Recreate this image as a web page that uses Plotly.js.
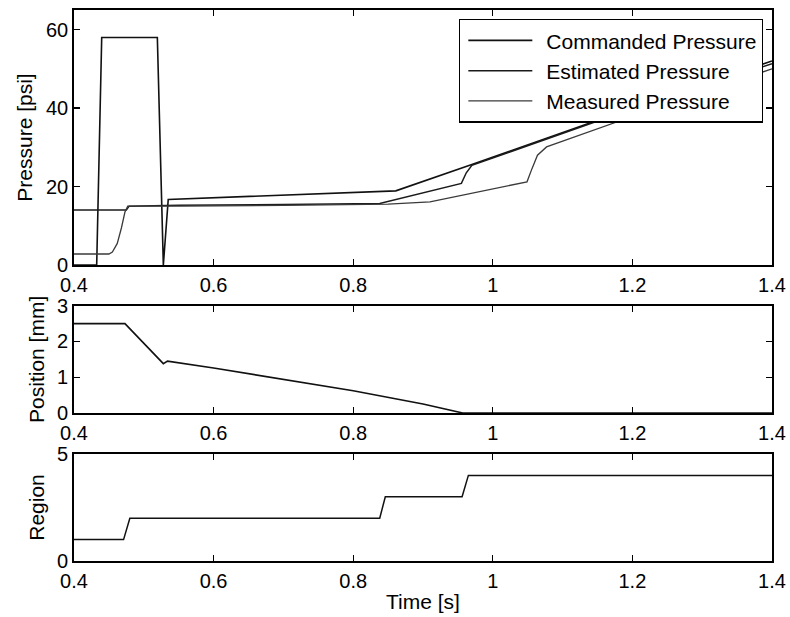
<!DOCTYPE html>
<html>
<head>
<meta charset="utf-8">
<script src="https://cdn.plot.ly/plotly-3.0.1.min.js"></script>
<style>html,body{margin:0;padding:0;background:#fff;}#chart{width:790px;height:617px;}</style>
</head>
<body>
<div id="chart"></div>
<script>
// Pressure panel
const cmdTime  = [0.40, 0.4325, 0.4397, 0.5194, 0.528, 0.535, 0.861, 0.97, 1.20, 1.40];
const cmdPsi   = [0.0,  0.0,    58.0,   58.0,   0.0,   16.7,  18.9,  25.6, 40.0, 52.0];

const estTime  = [0.40, 0.475, 0.479, 0.55, 0.70, 0.838, 0.955, 0.962, 0.97, 1.20, 1.40];
const estPsi   = [14.0, 14.0,  15.0,  15.2, 15.4, 15.7,  20.8,  23.5,  25.4, 39.8, 51.3];

const measTime = [0.40, 0.45, 0.455, 0.462, 0.468, 0.473, 0.477, 0.55, 0.70, 0.85, 0.91, 1.049, 1.056, 1.064, 1.077, 1.24, 1.40];
const measPsi  = [2.8,  2.8,  3.3,   5.5,   9.5,   13.5,  15.0,  15.0, 15.2, 15.5, 16.1, 21.2,  24.5,  28.0,  30.1,  40.4, 50.0];

// Position panel
const posTime  = [0.40, 0.473, 0.528, 0.534, 0.60, 0.70, 0.80, 0.90, 0.957, 1.40];
const posMm    = [2.5,  2.5,   1.38,  1.45,  1.26, 0.95, 0.62, 0.25, 0.0,   0.0];

// Region panel
const regTime  = [0.40, 0.471, 0.480, 0.838, 0.846, 0.956, 0.965, 1.40];
const regVal   = [1,    1,     2,     2,     3,     3,     4,     4];

const xTicks = [0.4, 0.6, 0.8, 1.0, 1.2, 1.4];
const pressureTicks = [0, 20, 40, 60];
const positionTicks = [0, 1, 2, 3];
const regionTicks = [0, 5];

const FONT = 'Liberation Sans, Arial, Helvetica, sans-serif';

const traces = [
  {x: cmdTime, y: cmdPsi, name: 'Commanded Pressure', mode: 'lines', line: {color: '#111', width: 1.6}, xaxis: 'x', yaxis: 'y'},
  {x: estTime, y: estPsi, name: 'Estimated Pressure', mode: 'lines', line: {color: '#1a1a1a', width: 1.5}, xaxis: 'x', yaxis: 'y'},
  {x: measTime, y: measPsi, name: 'Measured Pressure', mode: 'lines', line: {color: '#3a3a3a', width: 1.3}, xaxis: 'x', yaxis: 'y'},
  {x: posTime, y: posMm, mode: 'lines', line: {color: '#111', width: 1.6}, xaxis: 'x2', yaxis: 'y2', showlegend: false},
  {x: regTime, y: regVal, mode: 'lines', line: {color: '#111', width: 1.5}, xaxis: 'x3', yaxis: 'y3', showlegend: false}
];

function xax(anchor, title) {
  const a = {
    domain: [0, 1], range: [0.4, 1.4], anchor: anchor,
    tickmode: 'array', tickvals: xTicks,
    ticks: 'inside', ticklen: 6, tickwidth: 1.3, tickcolor: '#000',
    showline: true, linecolor: '#000', linewidth: 1.8, mirror: 'ticks',
    showgrid: false, zeroline: false, ticklabelstandoff: 1,
    tickfont: {family: FONT, size: 20, color: '#000'}
  };
  if (title) a.title = {text: title, font: {family: FONT, size: 21, color: '#000'}, standoff: 3};
  return a;
}
function yax(anchor, domain, range, ticks, title) {
  return {
    domain: domain, range: range, anchor: anchor,
    tickmode: 'array', tickvals: ticks,
    ticks: 'inside', ticklen: 6, tickwidth: 1.3, tickcolor: '#000',
    showline: true, linecolor: '#000', linewidth: 1.8, mirror: 'ticks',
    showgrid: false, zeroline: false,
    tickfont: {family: FONT, size: 20, color: '#000'},
    title: {text: title, font: {family: FONT, size: 21, color: '#000'}, standoff: 7}
  };
}

const layout = {
  width: 790, height: 617,
  margin: {l: 74, r: 18, t: 10, b: 56},
  paper_bgcolor: '#fff', plot_bgcolor: '#fff',
  font: {family: FONT, color: '#000'},
  showlegend: true,
  legend: {
    x: 0.987, y: 0.984, xanchor: 'right', yanchor: 'top',
    bgcolor: '#fff', bordercolor: '#000', borderwidth: 1.4,
    font: {family: FONT, size: 21, color: '#000'},
    itemwidth: 76, tracegroupgap: 0
  },
  xaxis: xax('y'),
  yaxis: yax('x', [0.5372, 1], [0, 65], pressureTicks, 'Pressure [psi]'),
  xaxis2: xax('y2'),
  yaxis2: yax('x2', [0.2686, 0.4633], [0, 3], positionTicks, 'Position [mm]'),
  xaxis3: xax('y3', 'Time [s]'),
  yaxis3: yax('x3', [0, 0.1942], [0, 5], regionTicks, 'Region')
};

Plotly.newPlot('chart', traces, layout, {staticPlot: true, displayModeBar: false}).then(function () {
  // lengthen the legend line samples to match the reference style
  document.querySelectorAll('.legend .legendlines path').forEach(function (p) {
    p.setAttribute('d', 'M8,0h64');
  });
});
</script>
</body>
</html>
